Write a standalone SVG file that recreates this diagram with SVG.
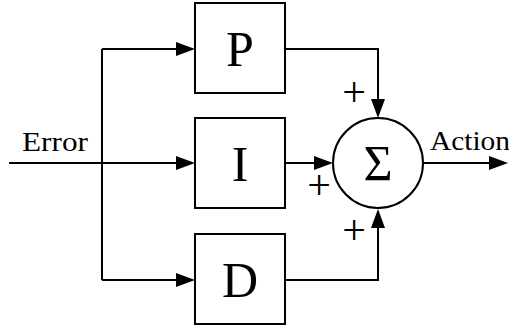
<svg xmlns="http://www.w3.org/2000/svg" width="509" height="330" viewBox="0 0 509 330">
<style>
.w{fill:none;stroke:#000;stroke-width:2}
.a{marker-end:url(#ah)}
.b{fill:#fff;stroke:#000;stroke-width:2}
.big{font-family:"Liberation Serif","DejaVu Serif",serif;font-size:50px;text-anchor:middle;fill:#000}
.lbl{font-family:"Liberation Serif","DejaVu Serif",serif;font-size:27px;fill:#000}
.pl{font-family:"Liberation Serif","DejaVu Serif",serif;font-size:42px;text-anchor:middle;fill:#000}
</style>
<defs>
<marker id="ah" markerUnits="userSpaceOnUse" markerWidth="22" markerHeight="16" viewBox="0 -8 22 16" refX="1" refY="0" orient="auto" overflow="visible">
<path d="M0,-7 L19,0 L0,7 z" fill="#000"/>
</marker>
</defs>
<g id="connectors">
<path class="w a" d="M9,163 L177,163"/>
<path class="w" d="M102,49 L102,280"/>
<path class="w a" d="M102,49 L177,49"/>
<path class="w a" d="M102,280 L177,280"/>
<path class="w a" d="M285,163 L315,163"/>
<path class="w a" d="M285,49 L378,49 L378,100"/>
<path class="w a" d="M285,280 L378,280 L378,227"/>
<path class="w a" d="M423,163 L490,163"/>
</g>
<g id="error-label"><text class="lbl" x="22" y="151" textLength="66" lengthAdjust="spacingAndGlyphs">Error</text></g>
<g id="action-label"><text class="lbl" x="430" y="150" textLength="80" lengthAdjust="spacingAndGlyphs">Action</text></g>
<g id="P"><rect class="b" x="195" y="3" width="90" height="90"/><text class="big" x="240" y="66">P</text></g>
<g id="I"><rect class="b" x="195" y="118" width="90" height="90"/><text class="big" x="240" y="181">I</text></g>
<g id="D"><rect class="b" x="195" y="234" width="90" height="90"/><text class="big" x="240" y="297">D</text></g>
<g id="sum"><circle class="b" cx="378" cy="163" r="45"/><text class="big" x="378" y="180">Σ</text></g>
<g id="signs">
<text class="pl" x="354" y="106">+</text>
<text class="pl" x="319" y="199">+</text>
<text class="pl" x="354" y="244">+</text>
</g>
</svg>
